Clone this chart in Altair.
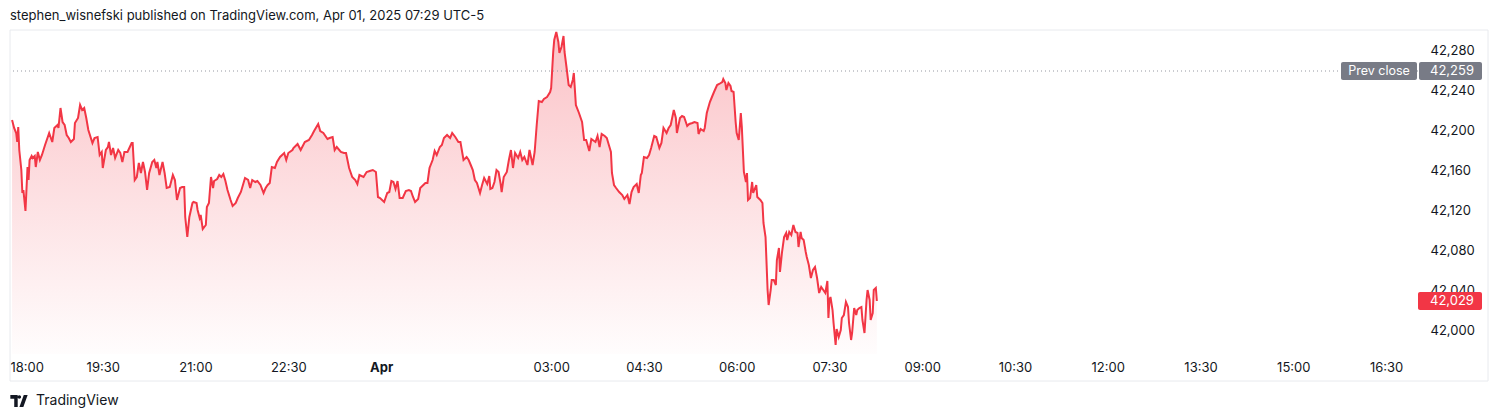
import altair as alt
import pandas as pd

# ---- data (minutes on the chart's bar axis since 18:00 open) ----
minutes = [
    2, 4, 6, 7, 8, 9, 11, 12, 13, 15, 17, 18, 19, 21, 22, 24, 25, 27, 29, 31,
    34, 38, 41, 43, 46, 47, 49, 51, 53, 55, 57, 59, 62, 63, 66, 68, 70, 72, 74, 76,
    80, 82, 85, 87, 89, 90, 93, 95, 96, 98, 100, 102, 105, 107, 109, 111, 114, 118, 119, 121,
    123, 125, 127, 129, 131, 133, 135, 138, 140, 142, 143, 145, 148, 150, 152, 155, 158, 160, 162, 165,
    167, 169, 170, 172, 174, 177, 178, 181, 182, 184, 185, 187, 190, 191, 193, 195, 197, 198, 201, 203,
    205, 207, 209, 211, 214, 216, 219, 221, 224, 226, 228, 231, 233, 235, 238, 240, 243, 246, 248, 250,
    252, 254, 257, 259, 262, 266, 268, 270, 274, 275, 279, 282, 286, 290, 293, 295, 299, 301, 304, 308,
    310, 313, 315, 317, 321, 324, 326, 329, 332, 335, 337, 339, 343, 346, 349, 352, 355, 357, 359, 363,
    366, 368, 370, 372, 374, 376, 378, 381, 384, 387, 389, 391, 393, 396, 398, 401, 403, 405, 407, 410,
    412, 414, 417, 419, 421, 424, 427, 429, 432, 435, 437, 440, 443, 445, 447, 449, 451, 453, 456, 458,
    460, 463, 465, 466, 468, 470, 472, 474, 476, 477, 479, 482, 484, 486, 488, 490, 493, 495, 497, 499,
    502, 504, 507, 509, 511, 513, 516, 518, 521, 524, 525, 527, 528, 530, 532, 533, 535, 537, 538, 540,
    542, 544, 546, 547, 549, 552, 555, 557, 559, 562, 564, 568, 570, 572, 574, 577, 579, 581, 583, 584,
    586, 588, 591, 594, 596, 599, 601, 603, 605, 608, 610, 612, 613, 615, 618, 620, 622, 625, 627, 630,
    632, 634, 637, 639, 641, 644, 646, 647, 650, 652, 654, 657, 659, 662, 664, 667, 668, 670, 673, 674,
    676, 679, 681, 683, 686, 688, 691, 692, 694, 695, 697, 699, 700, 702, 704, 705, 707, 709, 710, 712,
    714, 715, 716, 718, 720, 721, 724, 725, 728, 730, 731, 733, 735, 736, 738, 739, 741, 743, 744, 746,
    747, 749, 751, 753, 754, 756, 758, 760, 762, 764, 765, 767, 768, 770, 772, 773, 775, 777, 779, 781,
    783, 785, 787, 789, 791, 793, 794, 795, 796, 798, 799, 801, 802, 804, 806, 807, 809, 811, 813, 814,
    816, 817, 819, 821, 822, 824, 826, 827, 829, 831, 832, 834, 835, 837, 838, 840, 841,
]
prices = [
    42210, 42202, 42197, 42188, 42203, 42180, 42160, 42137, 42140, 42119, 42163, 42150, 42170, 42174, 42172, 42174, 42163, 42178, 42170, 42175,
    42185, 42197, 42188, 42202, 42205, 42202, 42222, 42208, 42205, 42195, 42192, 42188, 42191, 42207, 42212, 42225, 42220, 42222, 42212, 42200,
    42187, 42192, 42193, 42175, 42178, 42162, 42180, 42183, 42188, 42175, 42182, 42172, 42180, 42177, 42168, 42178, 42178, 42187, 42187, 42150,
    42153, 42167, 42157, 42168, 42158, 42140, 42157, 42168, 42170, 42162, 42168, 42155, 42168, 42157, 42142, 42143, 42155, 42150, 42130, 42142,
    42143, 42143, 42113, 42093, 42113, 42127, 42128, 42127, 42120, 42112, 42115, 42101, 42105, 42123, 42127, 42153, 42142, 42149, 42151, 42155,
    42153, 42156, 42149, 42140, 42130, 42124, 42127, 42132, 42138, 42145, 42152, 42150, 42142, 42150, 42148, 42149, 42145, 42137, 42142, 42145,
    42147, 42163, 42162, 42168, 42173, 42177, 42170, 42177, 42180, 42182, 42186, 42180, 42188, 42190, 42195, 42199, 42206, 42199, 42197, 42191,
    42192, 42193, 42180, 42183, 42178, 42177, 42177, 42162, 42153, 42150, 42146, 42155, 42153, 42158, 42159, 42160, 42158, 42133, 42132, 42128,
    42137, 42138, 42149, 42148, 42141, 42149, 42132, 42132, 42139, 42140, 42139, 42133, 42128, 42131, 42142, 42145, 42147, 42147, 42162, 42170,
    42179, 42175, 42183, 42185, 42192, 42195, 42192, 42197, 42193, 42188, 42188, 42170, 42173, 42170, 42165, 42160, 42150, 42147, 42137, 42145,
    42152, 42146, 42154, 42141, 42142, 42148, 42160, 42158, 42146, 42138, 42153, 42158, 42170, 42180, 42162, 42177, 42172, 42178, 42170, 42173,
    42165, 42180, 42165, 42178, 42205, 42229, 42228, 42231, 42233, 42238, 42242, 42278, 42290, 42298, 42288, 42277, 42283, 42294, 42278, 42262,
    42245, 42243, 42250, 42257, 42225, 42217, 42208, 42190, 42190, 42179, 42191, 42188, 42194, 42183, 42196, 42194, 42192, 42185, 42178, 42157,
    42145, 42142, 42138, 42135, 42131, 42135, 42126, 42138, 42143, 42146, 42137, 42155, 42157, 42173, 42172, 42175, 42182, 42194, 42193, 42182,
    42187, 42202, 42197, 42202, 42205, 42220, 42212, 42197, 42212, 42214, 42213, 42204, 42206, 42207, 42208, 42207, 42196, 42201, 42199, 42202,
    42217, 42228, 42233, 42238, 42245, 42246, 42248, 42251, 42247, 42240, 42247, 42244, 42239, 42238, 42208, 42197, 42190, 42217, 42203, 42158,
    42148, 42157, 42130, 42132, 42148, 42137, 42145, 42133, 42130, 42127, 42107, 42093, 42040, 42025, 42040, 42050, 42050, 42045, 42070, 42082,
    42058, 42078, 42093, 42097, 42090, 42098, 42095, 42105, 42098, 42097, 42083, 42098, 42092, 42090, 42078, 42073, 42065, 42052, 42060, 42063,
    42052, 42037, 42043, 42040, 42037, 42049, 42012, 42030, 42033, 42020, 42007, 41985, 42001, 41993, 42000, 42012, 42015, 42028, 42023, 42007,
    41990, 41997, 42022, 42015, 42020, 42022, 42023, 42010, 41997, 42030, 42040, 42030, 42010, 42017, 42040, 42042, 42029,
]

prev_close = 42259
last_price = 42029
y_domain = [41976, 42300]
x_domain = [0, 1366]
y_ticks = [42000, 42040, 42080, 42120, 42160, 42200, 42240, 42280]
x_tick_minutes = [0, 90, 180, 270, 360, 525, 615, 705, 795, 885, 975, 1065, 1155, 1245, 1335]
x_tick_labels = ["18:00", "19:30", "21:00", "22:30", "Apr", "03:00", "04:30", "06:00",
                 "07:30", "09:00", "10:30", "12:00", "13:30", "15:00", "16:30"]
title_text = "stephen_wisnefski published on TradingView.com, Apr 01, 2025 07:29 UTC-5"
brand_text = "TradingView"

RED = "#f23645"
GREY = "#787b86"
INK = "#131722"
FONT = "Inter"
W, H = 1408, 324

df = pd.DataFrame({"m": minutes, "p": prices})
x_scale = alt.Scale(domain=x_domain, nice=False, zero=False)
y_scale = alt.Scale(domain=y_domain, nice=False, zero=False)

label_expr = (
    "[" + ",".join("'" + s + "'" for s in x_tick_labels) + "]"
    + "[indexof([" + ",".join(str(v) for v in x_tick_minutes) + "], datum.value)]"
)

x_axis = alt.Axis(
    values=x_tick_minutes, labelExpr=label_expr, title=None, grid=False, domain=False,
    ticks=False, tickSize=0, labelPadding=7, labelFontSize=13, labelColor=INK,
    labelFont=FONT, labelFlush=True, labelOverlap=False,
    labelFontWeight={"condition": {"test": "datum.value == 360", "value": "bold"}, "value": "normal"},
)
y_axis = alt.Axis(
    orient="right", values=y_ticks, format=",d", title=None, grid=False, domain=False,
    ticks=False, tickSize=0, labelPadding=12, labelAlign="left", labelFontSize=13,
    labelColor=INK, labelFont=FONT, labelOverlap=False,
)

X = alt.X("m:Q", scale=x_scale, axis=x_axis)
Y = alt.Y("p:Q", scale=y_scale, axis=y_axis)

one = pd.DataFrame({"k": [0]})

frame = alt.Chart(one).mark_rect(fillOpacity=0, stroke="#e8eaee", strokeWidth=1).encode(
    x=alt.value(0), x2=alt.value(W + 70), y=alt.value(0), y2=alt.value(H + 27)
)

area = alt.Chart(df).mark_area(
    clip=True,
    color=alt.Gradient(
        gradient="linear",
        stops=[alt.GradientStop(color="rgba(242,54,69,0.01)", offset=0),
               alt.GradientStop(color="rgba(242,54,69,0.30)", offset=1)],
        x1=1, x2=1, y1=1, y2=0,
    ),
).encode(x=X, y=Y, y2=alt.datum(y_domain[0]))

line = alt.Chart(df).mark_line(color=RED, strokeWidth=2, clip=True).encode(x=X, y=Y)

pc = pd.DataFrame({"p": [prev_close]})
lp = pd.DataFrame({"p": [last_price]})

pc_rule = alt.Chart(pc).mark_rule(color="#9598a1", strokeDash=[1, 3], strokeWidth=1).encode(y=Y)
pc_box1 = alt.Chart(pc).mark_rect(color=GREY, yOffset=-9, y2Offset=9, cornerRadius=2).encode(
    y=Y, y2="p:Q", x=alt.value(W - 77), x2=alt.value(W - 1),
)
pc_box2 = alt.Chart(pc).mark_rect(color=GREY, yOffset=-9, y2Offset=9, cornerRadius=2).encode(
    y=Y, y2="p:Q", x=alt.value(W + 1), x2=alt.value(W + 64),
)
pc_txt1 = alt.Chart(pc).mark_text(color="white", font=FONT, fontSize=12.5, align="center", baseline="middle").encode(
    y=Y, x=alt.value(W - 39), text=alt.value("Prev close"),
)
pc_txt2 = alt.Chart(pc).mark_text(color="white", font=FONT, fontSize=13, align="left", baseline="middle").encode(
    y=Y, x=alt.value(W + 12), text=alt.Text("p:Q", format=",d"),
)
lp_box = alt.Chart(lp).mark_rect(color=RED, yOffset=-9, y2Offset=9, cornerRadius=2).encode(
    y=Y, y2="p:Q", x=alt.value(W), x2=alt.value(W + 64),
)
lp_txt = alt.Chart(lp).mark_text(color="white", font=FONT, fontSize=13, align="left", baseline="middle").encode(
    y=Y, x=alt.value(W + 12), text=alt.Text("p:Q", format=",d"),
)

title = alt.Chart(one).mark_text(color=INK, font=FONT, fontSize=13, align="left", baseline="middle").encode(
    x=alt.value(0), y=alt.value(-14), text=alt.value(title_text)
)

logo_path = (
    "M-1,-0.7 L-0.15,-0.7 L-0.15,0.7 L-0.55,0.7 L-0.55,-0.25 L-1,-0.25 Z "
    "M-0.16,-0.45 A0.2,0.2 0 1,0 0.24,-0.45 A0.2,0.2 0 1,0 -0.16,-0.45 Z "
    "M0.55,-0.7 L1,-0.7 L0.5,0.7 L0.05,0.7 Z"
)
logo = alt.Chart(one).mark_point(shape=logo_path, size=300, filled=True, color=INK, opacity=1, strokeWidth=0).encode(
    x=alt.value(9), y=alt.value(H + 47)
)
brand = alt.Chart(one).mark_text(color=INK, font=FONT, fontSize=14, align="left", baseline="middle").encode(
    x=alt.value(26), y=alt.value(H + 47), text=alt.value(brand_text)
)

chart = alt.layer(
    frame, area, line, pc_rule, pc_box1, pc_box2, pc_txt1, pc_txt2, lp_box, lp_txt, title, logo, brand
).properties(
    width=W, height=H,
    autosize=alt.AutoSizeParams(type="none"),
    padding={"left": 2, "top": 22, "right": 74, "bottom": 60},
    background="white",
).configure_view(stroke=None)

chart.save("out.html", embed_options={"renderer": "svg", "actions": False})
